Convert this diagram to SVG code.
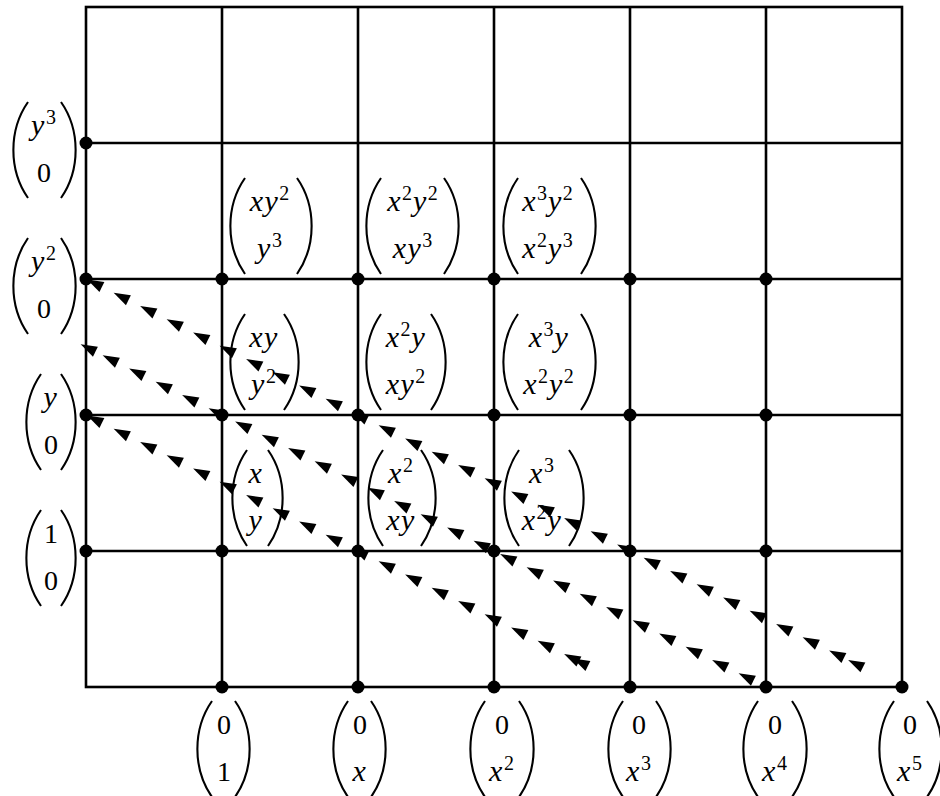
<svg xmlns="http://www.w3.org/2000/svg" xmlns:xlink="http://www.w3.org/1999/xlink" width="940" height="796" viewBox="0 0 940 796">
<style>
.grid{stroke:#000;stroke-width:2.6;fill:none}
.dot{fill:#000}
.par{fill:none;stroke:#000;stroke-width:2.1}
.m{font-family:"Liberation Serif","Times New Roman",serif;font-style:italic;font-size:30px;letter-spacing:1.5px;fill:#000}
.d{font-family:"Liberation Serif","Times New Roman",serif;font-style:normal;font-size:28px;fill:#000}
.s{font-style:normal;font-size:20px;letter-spacing:1px}
</style>
<defs>
<path id="lp" d="M16,0 C-3.5,28 -3.5,68 16,96"/>
<path id="rp" d="M1,0 C20.5,28 20.5,68 1,96"/>
<polygon id="ah" points="-0.9,-0.45 16.3,2 11.4,11.85" fill="#000"/>
</defs>
<rect width="940" height="796" fill="#fff"/>
<g id="grid" class="grid">
<rect x="86" y="7" width="816" height="680"/>
<path d="M222,7V687M358,7V687M494,7V687M630,7V687M766,7V687"/>
<path d="M86,143H902M86,279H902M86,415H902M86,551H902"/>
</g>
<g id="connectors">
<g id="chainA">
<use href="#ah" x="88.05" y="280.03"/><use href="#ah" x="114.55" y="293.28"/><use href="#ah" x="141.05" y="306.53"/><use href="#ah" x="167.55" y="319.78"/><use href="#ah" x="194.05" y="333.03"/>
<use href="#ah" x="220.55" y="346.28"/><use href="#ah" x="247.05" y="359.53"/><use href="#ah" x="273.55" y="372.78"/><use href="#ah" x="300.05" y="386.03"/><use href="#ah" x="326.55" y="399.28"/>
<use href="#ah" x="353.05" y="412.53"/><use href="#ah" x="379.55" y="425.78"/><use href="#ah" x="406.05" y="439.03"/><use href="#ah" x="432.55" y="452.28"/><use href="#ah" x="459.05" y="465.53"/>
<use href="#ah" x="485.55" y="478.78"/><use href="#ah" x="512.05" y="492.03"/><use href="#ah" x="538.55" y="505.28"/><use href="#ah" x="565.05" y="518.53"/><use href="#ah" x="591.55" y="531.78"/>
<use href="#ah" x="618.05" y="545.03"/><use href="#ah" x="644.55" y="558.28"/><use href="#ah" x="671.05" y="571.53"/><use href="#ah" x="697.55" y="584.78"/><use href="#ah" x="724.05" y="598.03"/>
<use href="#ah" x="750.55" y="611.28"/><use href="#ah" x="777.05" y="624.53"/><use href="#ah" x="803.55" y="637.78"/><use href="#ah" x="830.05" y="651.03"/><use href="#ah" x="849.05" y="660.5"/>
</g>
<g id="chainB">
<use href="#ah" x="81.55" y="344.78"/><use href="#ah" x="103.55" y="355.78"/><use href="#ah" x="130.05" y="369.03"/><use href="#ah" x="156.55" y="382.28"/><use href="#ah" x="183.05" y="395.53"/>
<use href="#ah" x="209.55" y="408.78"/><use href="#ah" x="236.05" y="422.03"/><use href="#ah" x="262.55" y="435.28"/><use href="#ah" x="289.05" y="448.53"/><use href="#ah" x="315.55" y="461.78"/>
<use href="#ah" x="342.05" y="475.03"/><use href="#ah" x="368.55" y="488.28"/><use href="#ah" x="395.05" y="501.53"/><use href="#ah" x="421.55" y="514.78"/><use href="#ah" x="448.05" y="528.03"/>
<use href="#ah" x="474.55" y="541.28"/><use href="#ah" x="501.05" y="554.53"/><use href="#ah" x="527.55" y="567.78"/><use href="#ah" x="554.05" y="581.03"/><use href="#ah" x="580.55" y="594.28"/>
<use href="#ah" x="607.05" y="607.53"/><use href="#ah" x="633.55" y="620.78"/><use href="#ah" x="660.05" y="634.03"/><use href="#ah" x="686.55" y="647.28"/><use href="#ah" x="713.05" y="660.53"/>
<use href="#ah" x="739.55" y="673.78"/>
</g>
<g id="chainC">
<use href="#ah" x="88.05" y="416.03"/><use href="#ah" x="114.55" y="429.28"/><use href="#ah" x="141.05" y="442.53"/><use href="#ah" x="167.55" y="455.78"/><use href="#ah" x="194.05" y="469.03"/>
<use href="#ah" x="220.55" y="482.28"/><use href="#ah" x="247.05" y="495.53"/><use href="#ah" x="273.55" y="508.78"/><use href="#ah" x="300.05" y="522.03"/><use href="#ah" x="326.55" y="535.28"/>
<use href="#ah" x="353.05" y="548.53"/><use href="#ah" x="379.55" y="561.78"/><use href="#ah" x="406.05" y="575.03"/><use href="#ah" x="432.55" y="588.28"/><use href="#ah" x="459.05" y="601.53"/>
<use href="#ah" x="485.55" y="614.78"/><use href="#ah" x="512.05" y="628.03"/><use href="#ah" x="538.55" y="641.28"/><use href="#ah" x="565.05" y="654.53"/><use href="#ah" x="574.05" y="659.03"/>
</g>
</g>
<!-- left nodes -->
<g id="n-y3">
<circle class="dot" cx="86" cy="143" r="6.5"/>
<use class="par" href="#lp" x="12" y="102"/><use class="par" href="#rp" x="60" y="102"/>
<text class="m" x="44" y="135" text-anchor="middle">y<tspan class="s" dy="-11">3</tspan></text>
<text class="d" x="44" y="182" text-anchor="middle">0</text>
</g>
<g id="n-y2">
<circle class="dot" cx="86" cy="279" r="6.5"/>
<use class="par" href="#lp" x="12" y="238"/><use class="par" href="#rp" x="60" y="238"/>
<text class="m" x="44" y="271" text-anchor="middle">y<tspan class="s" dy="-11">2</tspan></text>
<text class="d" x="44" y="318" text-anchor="middle">0</text>
</g>
<g id="n-y">
<circle class="dot" cx="86" cy="415" r="6.5"/>
<use class="par" href="#lp" x="25" y="374"/><use class="par" href="#rp" x="60" y="374"/>
<text class="m" x="51" y="407" text-anchor="middle">y</text>
<text class="d" x="51" y="454" text-anchor="middle">0</text>
</g>
<g id="n-1">
<circle class="dot" cx="86" cy="551" r="6.5"/>
<use class="par" href="#lp" x="25" y="510"/><use class="par" href="#rp" x="60" y="510"/>
<text class="d" x="51" y="543" text-anchor="middle">1</text>
<text class="d" x="51" y="590" text-anchor="middle">0</text>
</g>
<!-- bottom nodes -->
<g id="n-b1">
<circle class="dot" cx="222" cy="687" r="6.5"/>
<use class="par" href="#lp" x="196" y="701"/><use class="par" href="#rp" x="234" y="701"/>
<text class="d" x="224" y="734" text-anchor="middle">0</text>
<text class="d" x="224" y="781" text-anchor="middle">1</text>
</g>
<g id="n-bx">
<circle class="dot" cx="358" cy="687" r="6.5"/>
<use class="par" href="#lp" x="332" y="701"/><use class="par" href="#rp" x="370" y="701"/>
<text class="d" x="360" y="734" text-anchor="middle">0</text>
<text class="m" x="360" y="781" text-anchor="middle">x</text>
</g>
<g id="n-bx2">
<circle class="dot" cx="494" cy="687" r="6.5"/>
<use class="par" href="#lp" x="469" y="701"/><use class="par" href="#rp" x="518" y="701"/>
<text class="d" x="502" y="734" text-anchor="middle">0</text>
<text class="m" x="502" y="781" text-anchor="middle">x<tspan class="s" dy="-11">2</tspan></text>
</g>
<g id="n-bx3">
<circle class="dot" cx="630" cy="687" r="6.5"/>
<use class="par" href="#lp" x="607" y="701"/><use class="par" href="#rp" x="655" y="701"/>
<text class="d" x="639" y="734" text-anchor="middle">0</text>
<text class="m" x="639" y="781" text-anchor="middle">x<tspan class="s" dy="-11">3</tspan></text>
</g>
<g id="n-bx4">
<circle class="dot" cx="766" cy="687" r="6.5"/>
<use class="par" href="#lp" x="742" y="701"/><use class="par" href="#rp" x="791" y="701"/>
<text class="d" x="775" y="734" text-anchor="middle">0</text>
<text class="m" x="775" y="781" text-anchor="middle">x<tspan class="s" dy="-11">4</tspan></text>
</g>
<g id="n-bx5">
<circle class="dot" cx="902" cy="687" r="6.5"/>
<use class="par" href="#lp" x="878" y="701"/><use class="par" href="#rp" x="926" y="701"/>
<text class="d" x="910" y="734" text-anchor="middle">0</text>
<text class="m" x="910" y="781" text-anchor="middle">x<tspan class="s" dy="-11">5</tspan></text>
</g>
<!-- interior row 279 -->
<g id="n-xy2">
<circle class="dot" cx="222" cy="279" r="6.5"/>
<use class="par" href="#lp" x="229" y="178"/><use class="par" href="#rp" x="296" y="178"/>
<text class="m" x="270" y="211" text-anchor="middle">xy<tspan class="s" dy="-11">2</tspan></text>
<text class="m" x="270" y="258" text-anchor="middle">y<tspan class="s" dy="-11">3</tspan></text>
</g>
<g id="n-x2y2">
<circle class="dot" cx="358" cy="279" r="6.5"/>
<use class="par" href="#lp" x="365" y="178"/><use class="par" href="#rp" x="443" y="178"/>
<text class="m" x="413" y="211" text-anchor="middle">x<tspan class="s" dy="-11">2</tspan><tspan dy="11">y</tspan><tspan class="s" dy="-11">2</tspan></text>
<text class="m" x="413" y="258" text-anchor="middle">xy<tspan class="s" dy="-11">3</tspan></text>
</g>
<g id="n-x3y2">
<circle class="dot" cx="494" cy="279" r="6.5"/>
<use class="par" href="#lp" x="502" y="178"/><use class="par" href="#rp" x="580" y="178"/>
<text class="m" x="548" y="211" text-anchor="middle">x<tspan class="s" dy="-11">3</tspan><tspan dy="11">y</tspan><tspan class="s" dy="-11">2</tspan></text>
<text class="m" x="548" y="258" text-anchor="middle">x<tspan class="s" dy="-11">2</tspan><tspan dy="11">y</tspan><tspan class="s" dy="-11">3</tspan></text>
</g>
<g id="n-c4-279"><circle class="dot" cx="630" cy="279" r="6.5"/></g>
<g id="n-c5-279"><circle class="dot" cx="766" cy="279" r="6.5"/></g>
<!-- interior row 415 -->
<g id="n-xy">
<circle class="dot" cx="222" cy="415" r="6.5"/>
<use class="par" href="#lp" x="229" y="314"/><use class="par" href="#rp" x="283" y="314"/>
<text class="m" x="264" y="347" text-anchor="middle">xy</text>
<text class="m" x="264" y="394" text-anchor="middle">y<tspan class="s" dy="-11">2</tspan></text>
</g>
<g id="n-x2y">
<circle class="dot" cx="358" cy="415" r="6.5"/>
<use class="par" href="#lp" x="365" y="314"/><use class="par" href="#rp" x="430" y="314"/>
<text class="m" x="406" y="347" text-anchor="middle">x<tspan class="s" dy="-11">2</tspan><tspan dy="11">y</tspan></text>
<text class="m" x="406" y="394" text-anchor="middle">xy<tspan class="s" dy="-11">2</tspan></text>
</g>
<g id="n-x3y">
<circle class="dot" cx="494" cy="415" r="6.5"/>
<use class="par" href="#lp" x="502" y="314"/><use class="par" href="#rp" x="580" y="314"/>
<text class="m" x="549" y="347" text-anchor="middle">x<tspan class="s" dy="-11">3</tspan><tspan dy="11">y</tspan></text>
<text class="m" x="549" y="394" text-anchor="middle">x<tspan class="s" dy="-11">2</tspan><tspan dy="11">y</tspan><tspan class="s" dy="-11">2</tspan></text>
</g>
<g id="n-c4-415"><circle class="dot" cx="630" cy="415" r="6.5"/></g>
<g id="n-c5-415"><circle class="dot" cx="766" cy="415" r="6.5"/></g>
<!-- interior row 551 -->
<g id="n-x">
<circle class="dot" cx="222" cy="551" r="6.5"/>
<use class="par" href="#lp" x="231" y="450"/><use class="par" href="#rp" x="267" y="450"/>
<text class="m" x="256" y="483" text-anchor="middle">x</text>
<text class="m" x="256" y="530" text-anchor="middle">y</text>
</g>
<g id="n-x2">
<circle class="dot" cx="358" cy="551" r="6.5"/>
<use class="par" href="#lp" x="367" y="450"/><use class="par" href="#rp" x="420" y="450"/>
<text class="m" x="401" y="483" text-anchor="middle">x<tspan class="s" dy="-11">2</tspan></text>
<text class="m" x="401" y="530" text-anchor="middle">xy</text>
</g>
<g id="n-x3">
<circle class="dot" cx="494" cy="551" r="6.5"/>
<use class="par" href="#lp" x="503" y="450"/><use class="par" href="#rp" x="568" y="450"/>
<text class="m" x="542" y="483" text-anchor="middle">x<tspan class="s" dy="-11">3</tspan></text>
<text class="m" x="542" y="530" text-anchor="middle">x<tspan class="s" dy="-11">2</tspan><tspan dy="11">y</tspan></text>
</g>
<g id="n-c4-551"><circle class="dot" cx="630" cy="551" r="6.5"/></g>
<g id="n-c5-551"><circle class="dot" cx="766" cy="551" r="6.5"/></g>
</svg>
